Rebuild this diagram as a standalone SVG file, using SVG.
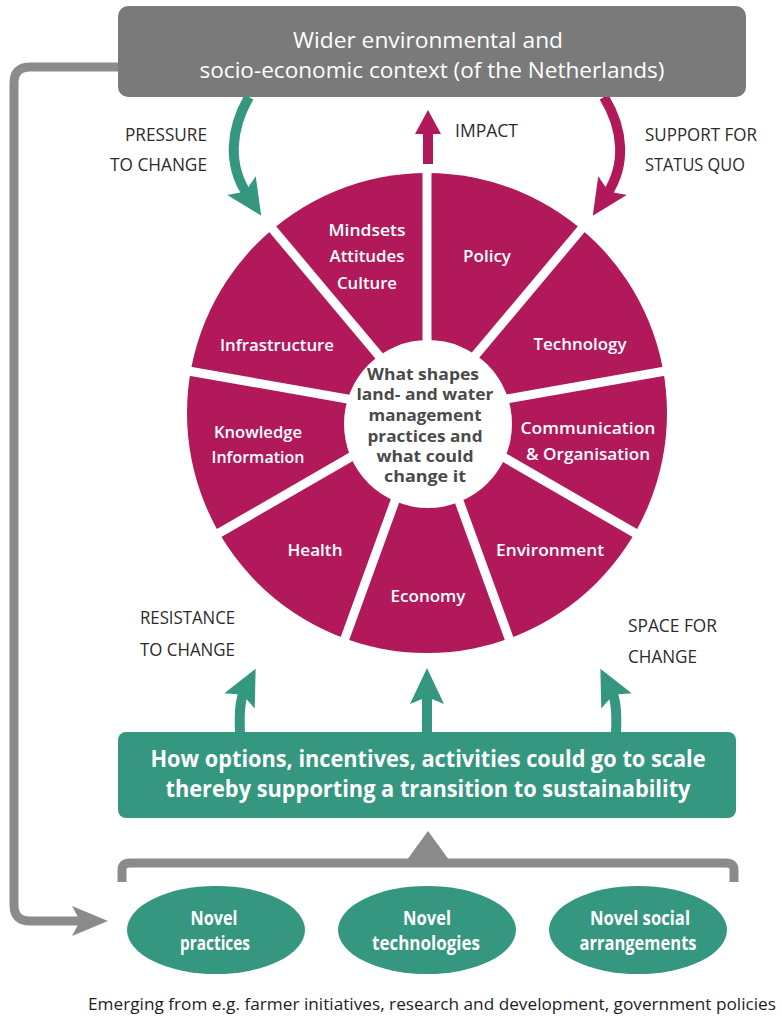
<svg xmlns="http://www.w3.org/2000/svg" width="782" height="1022" viewBox="0 0 782 1022">
<style>
.cond{font-family:"Liberation Sans Narrow","Open Sans","Liberation Sans",sans-serif;}
.wl{font-family:"Open Sans","Liberation Sans",sans-serif;font-weight:600;font-size:17px;fill:#ffffff;text-anchor:middle;}
.ctr{font-family:"Open Sans","Liberation Sans",sans-serif;font-weight:700;font-size:16px;fill:#4a4a4a;text-anchor:middle;}
.lbl{font-family:"Liberation Sans Narrow","Open Sans","Liberation Sans",sans-serif;font-size:18px;fill:#2b2b2b;}
.wt{fill:#ffffff;text-anchor:middle;}
.teal{fill:#35977f;}
.mag{fill:#b1195b;}
.gline{fill:none;stroke:#8b8b8b;stroke-width:9;stroke-linejoin:round;}
.tline{fill:none;stroke:#35977f;stroke-width:10;}
.mline{fill:none;stroke:#b1195b;stroke-width:10;}
.spoke{stroke:#ffffff;stroke-width:9;}
</style>
<defs>
<marker id="hT" markerUnits="userSpaceOnUse" markerWidth="60" markerHeight="60" refX="8" refY="0" orient="auto" overflow="visible">
<path d="M34,0 L-2,-17 L5,0 L-2,17 Z" fill="#35977f"/>
</marker>
<marker id="hM" markerUnits="userSpaceOnUse" markerWidth="60" markerHeight="60" refX="8" refY="0" orient="auto" overflow="visible">
<path d="M34,0 L-2,-17 L5,0 L-2,17 Z" fill="#b1195b"/>
</marker>
<marker id="hG" markerUnits="userSpaceOnUse" markerWidth="60" markerHeight="60" refX="8" refY="0" orient="auto" overflow="visible">
<path d="M30,0 L-6,-15 L2,0 L-6,15 Z" fill="#8b8b8b"/>
</marker>
</defs>
<rect width="782" height="1022" fill="#ffffff"/>

<g id="connectors">
<path class="gline" d="M120 67 L30 67 Q14 67 14 83 L14 905 Q14 921 30 921 L86 921" marker-end="url(#hG)"/>
<path class="tline" d="M249 97 C230 130 228 165 247 194" marker-end="url(#hT)"/>
<path class="mline" d="M604 97 C624 130 626 165 607 194" marker-end="url(#hM)"/>
<line class="mline" x1="428" y1="164" x2="428" y2="130"/>
<polygon class="mag" points="428,110 415,134 441,134"/>
<path class="tline" d="M240 733 C239 712 240 700 244 692" marker-end="url(#hT)"/>
<path class="tline" d="M427 733 L427 694" marker-end="url(#hT)"/>
<path class="tline" d="M616 733 C617 712 616 700 612 692" marker-end="url(#hT)"/>
<path class="gline" d="M122 882 L122 870 Q122 863 130 863 L726 863 Q734 863 734 870 L734 882"/>
<polygon points="404,864 428,831 452,864" fill="#8b8b8b"/>
</g>

<g id="context">
<rect x="118" y="6" width="628" height="91" rx="10" fill="#7a7a7a"/>
<text class="cond wt" font-size="22" x="428" y="48" textLength="270" lengthAdjust="spacingAndGlyphs">Wider environmental and</text>
<text class="cond wt" font-size="22" x="432" y="78" textLength="465" lengthAdjust="spacingAndGlyphs">socio-economic context (of the Netherlands)</text>
</g>

<g id="labels">
<text class="lbl" x="207" y="141" text-anchor="end" textLength="82" lengthAdjust="spacingAndGlyphs">PRESSURE</text>
<text class="lbl" x="207" y="171" text-anchor="end" textLength="97" lengthAdjust="spacingAndGlyphs">TO  CHANGE</text>
<text class="lbl" x="455" y="137" textLength="63" lengthAdjust="spacingAndGlyphs">IMPACT</text>
<text class="lbl" x="645" y="141" textLength="112" lengthAdjust="spacingAndGlyphs">SUPPORT FOR</text>
<text class="lbl" x="645" y="171" textLength="100" lengthAdjust="spacingAndGlyphs">STATUS QUO</text>
<text class="lbl" x="140" y="624" textLength="95" lengthAdjust="spacingAndGlyphs">RESISTANCE</text>
<text class="lbl" x="140" y="656" textLength="95" lengthAdjust="spacingAndGlyphs">TO CHANGE</text>
<text class="lbl" x="628" y="632" textLength="89" lengthAdjust="spacingAndGlyphs">SPACE FOR</text>
<text class="lbl" x="628" y="663" textLength="69" lengthAdjust="spacingAndGlyphs">CHANGE</text>
</g>

<g id="wheel">
<circle class="mag" cx="427" cy="413" r="240"/>
<line class="spoke" x1="427" y1="413" x2="427" y2="168"/>
<line class="spoke" x1="427" y1="413" x2="584.5" y2="225.3"/>
<line class="spoke" x1="427" y1="413" x2="668.3" y2="370.5"/>
<line class="spoke" x1="427" y1="413" x2="639.2" y2="535.5"/>
<line class="spoke" x1="427" y1="413" x2="510.8" y2="643.2"/>
<line class="spoke" x1="427" y1="413" x2="343.2" y2="643.2"/>
<line class="spoke" x1="427" y1="413" x2="214.8" y2="535.5"/>
<line class="spoke" x1="427" y1="413" x2="185.7" y2="370.5"/>
<line class="spoke" x1="427" y1="413" x2="269.5" y2="225.3"/>
<circle cx="428" cy="424" r="84" fill="#ffffff"/>
</g>

<g id="seg-mindsets">
<text class="wl" x="367" y="236" textLength="77" lengthAdjust="spacingAndGlyphs">Mindsets</text>
<text class="wl" x="367" y="262" textLength="75" lengthAdjust="spacingAndGlyphs">Attitudes</text>
<text class="wl" x="367" y="289" textLength="60" lengthAdjust="spacingAndGlyphs">Culture</text>
</g>
<g id="seg-policy"><text class="wl" x="487" y="262" textLength="48" lengthAdjust="spacingAndGlyphs">Policy</text></g>
<g id="seg-technology"><text class="wl" x="580" y="350" textLength="93" lengthAdjust="spacingAndGlyphs">Technology</text></g>
<g id="seg-communication">
<text class="wl" x="588" y="434" textLength="135" lengthAdjust="spacingAndGlyphs">Communication</text>
<text class="wl" x="588" y="460" textLength="124" lengthAdjust="spacingAndGlyphs">&amp; Organisation</text>
</g>
<g id="seg-environment"><text class="wl" x="550" y="556" textLength="108" lengthAdjust="spacingAndGlyphs">Environment</text></g>
<g id="seg-economy"><text class="wl" x="428" y="602" textLength="75" lengthAdjust="spacingAndGlyphs">Economy</text></g>
<g id="seg-health"><text class="wl" x="315" y="556" textLength="55" lengthAdjust="spacingAndGlyphs">Health</text></g>
<g id="seg-knowledge">
<text class="wl" x="258" y="438" textLength="88" lengthAdjust="spacingAndGlyphs">Knowledge</text>
<text class="wl" x="258" y="463" textLength="93" lengthAdjust="spacingAndGlyphs">Information</text>
</g>
<g id="seg-infrastructure"><text class="wl" x="277" y="351" textLength="114" lengthAdjust="spacingAndGlyphs">Infrastructure</text></g>

<g id="center">
<text class="ctr" x="423" y="380" textLength="112" lengthAdjust="spacingAndGlyphs">What shapes</text>
<text class="ctr" x="425" y="400" textLength="137" lengthAdjust="spacingAndGlyphs">land- and water</text>
<text class="ctr" x="425" y="421" textLength="113" lengthAdjust="spacingAndGlyphs">management</text>
<text class="ctr" x="425" y="442" textLength="115" lengthAdjust="spacingAndGlyphs">practices and</text>
<text class="ctr" x="425" y="462" textLength="97" lengthAdjust="spacingAndGlyphs">what could</text>
<text class="ctr" x="425" y="482" textLength="82" lengthAdjust="spacingAndGlyphs">change it</text>
</g>

<g id="scale">
<rect class="teal" x="118" y="732" width="618" height="86" rx="8"/>
<text class="cond wt" font-size="24" font-weight="700" x="428" y="767" textLength="555" lengthAdjust="spacingAndGlyphs">How options, incentives, activities could go to scale</text>
<text class="cond wt" font-size="24" font-weight="700" x="428" y="797" textLength="525" lengthAdjust="spacingAndGlyphs">thereby supporting a transition to sustainability</text>
</g>

<g id="novel-practices">
<ellipse class="teal" cx="216" cy="930" rx="89" ry="44"/>
<text class="cond wt" font-size="19" font-weight="700" x="214" y="925" textLength="47" lengthAdjust="spacingAndGlyphs">Novel</text>
<text class="cond wt" font-size="19" font-weight="700" x="215" y="950" textLength="70" lengthAdjust="spacingAndGlyphs">practices</text>
</g>
<g id="novel-technologies">
<ellipse class="teal" cx="427" cy="930" rx="89" ry="44"/>
<text class="cond wt" font-size="19" font-weight="700" x="427" y="925" textLength="48" lengthAdjust="spacingAndGlyphs">Novel</text>
<text class="cond wt" font-size="19" font-weight="700" x="426" y="950" textLength="108" lengthAdjust="spacingAndGlyphs">technologies</text>
</g>
<g id="novel-social">
<ellipse class="teal" cx="638" cy="930" rx="89" ry="44"/>
<text class="cond wt" font-size="19" font-weight="700" x="640" y="925" textLength="100" lengthAdjust="spacingAndGlyphs">Novel social</text>
<text class="cond wt" font-size="19" font-weight="700" x="638" y="950" textLength="117" lengthAdjust="spacingAndGlyphs">arrangements</text>
</g>

<g id="footer">
<text class="cond" font-size="17" fill="#1e1e1e" x="432" y="1010" text-anchor="middle" textLength="688" lengthAdjust="spacingAndGlyphs">Emerging from e.g. farmer initiatives, research and development, government policies</text>
</g>
</svg>
